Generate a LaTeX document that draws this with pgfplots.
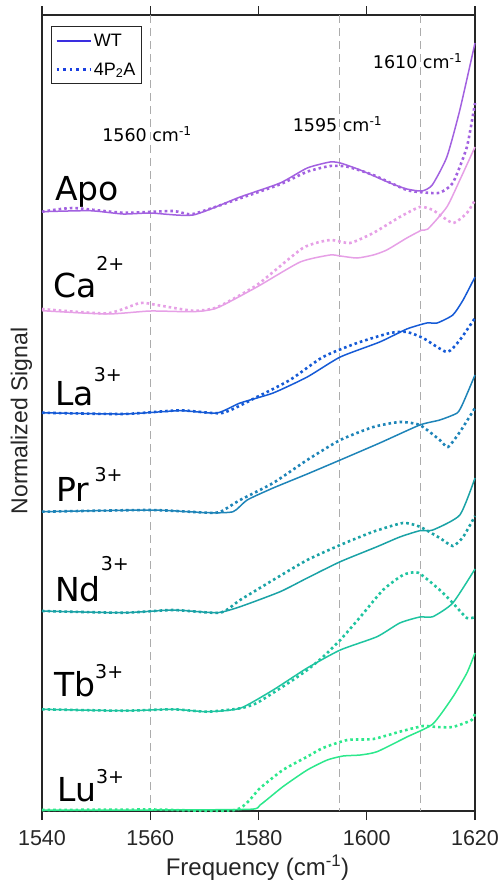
\documentclass[border=0pt]{standalone}
\usepackage{pgfplots}
\pgfplotsset{compat=1.18}
\usepackage{fontspec}
\setmainfont{Liberation Sans}
\newfontfamily\dv{DejaVu Sans}
\definecolor{cApo}{HTML}{A261E0}
\definecolor{cCa}{HTML}{E6A0E6}
\definecolor{cLa}{HTML}{155AD6}
\definecolor{cPr}{HTML}{1E84B8}
\definecolor{cNd}{HTML}{1AA2A6}
\definecolor{cTb}{HTML}{1EC4A0}
\definecolor{cLu}{HTML}{2CE88C}
\definecolor{cLegW}{HTML}{3A2EE0}
\definecolor{cLegD}{HTML}{1A40E0}
\definecolor{axc}{HTML}{262626}
\begin{document}
\begin{tikzpicture}
\useasboundingbox (0,0) rectangle (501pt,881pt);
\begin{axis}[
  at={(42pt,70pt)}, anchor=south west,
  width=433pt, height=796pt, scale only axis,
  xmin=1540, xmax=1620, ymin=15, ymax=811, y dir=reverse,
  clip=false,
  axis line style={draw=axc, line width=1.3pt},
  ytick=\empty,
  xtick={1540,1560,1580,1600,1620},
  xticklabels={1540,1560,1580,1600,1620},
  xtick pos=both, tick align=outside,
  major tick length=9pt,
  xtick style={color=axc, line width=1.4pt},
  xticklabel style={font=\fontsize{21.5}{21.5}\selectfont, text=axc, yshift=-7pt},
  xlabel={Frequency (cm\textsuperscript{-1})},
  xlabel style={font=\fontsize{24}{24}\selectfont, text=axc, at={(axis description cs:0.4977,-0.0708)}, anchor=center},
  ylabel={Normalized Signal},
  ylabel style={font=\fontsize{23}{23}\selectfont, text=axc, at={(axis description cs:-0.0473,0.490)}, anchor=center},
  legend style={at={(axis description cs:0.020,0.986)}, anchor=north west, draw=axc, line width=1.3pt,
    font=\fontsize{18}{18}\selectfont, inner xsep=4pt, inner ysep=5pt, row sep=11pt, fill=white},
  legend cell align=left,
  legend image code/.code={\draw[#1] (0pt,0pt) -- (34pt,0pt);},
]
\addlegendimage{color=cLegW, solid, line width=1.9pt}
\addlegendentry{WT}
\addlegendimage{color=cLegD, line width=2.6pt, dash pattern=on 2.6pt off 4pt}
\addlegendentry{4P\textsubscript{2}A}
% reference lines
\pgfplotsset{refl/.style={forget plot, draw=gray!65, line width=1.1pt, dash pattern=on 8pt off 5pt}}
\addplot[refl] coordinates {(1560,15) (1560,811)};
\addplot[refl] coordinates {(1595,15) (1595,811)};
\addplot[refl] coordinates {(1610,15) (1610,811)};
\pgfplotsset{wt/.style={forget plot, line width=1.5pt, smooth, tension=0.35}, mut/.style={forget plot, line width=2.6pt, dash pattern=on 2.6pt off 3pt, smooth, tension=0.35}}
% Apo
\addplot[wt, cApo] coordinates {(1540,211.7)(1548.9,210.7)(1555,214)(1560,213)(1567.9,215)(1576.6,197)(1584,183)(1589,168)(1593.2,162)(1595.1,163)(1598.8,170)(1604.3,183)(1607.4,189)(1610.2,191)(1612.1,185)(1614.8,157)(1617.2,110)(1620,43)};
\addplot[mut, cApo] coordinates {(1540,211.7)(1545.7,208)(1555,212.7)(1564.2,211)(1567.9,214)(1576.6,198.3)(1584,184.3)(1589,171.7)(1593.2,166)(1596.4,166.7)(1601.2,175)(1607.4,190)(1611.1,192.7)(1613.5,192.7)(1615.9,183)(1618.5,147)(1620,103)};
% Ca
\addplot[wt, cCa] coordinates {(1540,310.7)(1552,314)(1560,311)(1567.9,311.7)(1572.3,308)(1579.7,287)(1587.7,262)(1593.2,255)(1595.1,256)(1598.2,258)(1601.2,255)(1603.7,250)(1607.4,238)(1610.2,230)(1611.3,229)(1614.8,207)(1617.2,180)(1620,147)};
\addplot[mut, cCa] coordinates {(1540,309)(1552,313.3)(1558.1,303)(1561.2,305)(1567.9,310.7)(1572.3,307.3)(1579.7,285)(1588.2,248)(1593.2,240)(1596.9,243)(1601.2,233)(1606.1,217)(1609.8,207)(1612.2,210)(1615.9,223)(1618.5,213)(1620,200)};
% La
\addplot[wt, cLa] coordinates {(1540,412.7)(1555,414)(1565.5,410.7)(1572.3,413)(1576.6,403)(1582.7,393)(1589,377)(1595.1,357)(1602.4,342)(1607.4,329)(1611.1,323)(1613,323)(1615.9,315)(1617.8,300)(1620,277)};
\addplot[mut, cLa] coordinates {(1540,412.7)(1555,414)(1565.5,410.3)(1573.3,413)(1579.7,397)(1585.8,380)(1591.9,357)(1598.2,343)(1604.3,333)(1607.4,332)(1610.4,338)(1614.8,352)(1617.2,340)(1620,318)};
% Pr
\addplot[wt, cPr] coordinates {(1540,511.7)(1560,510)(1570.5,512.7)(1575.3,511.7)(1577.9,500)(1582.7,488)(1589,474)(1595.1,460)(1602.4,443)(1609.8,425)(1613.5,420)(1616.7,413)(1617.8,403)(1620,375)};
\addplot[mut, cPr] coordinates {(1540,511.7)(1560,510)(1570.5,512.7)(1572.9,512)(1576.6,500)(1582.7,483)(1589,460)(1595.1,440)(1601.2,427)(1606.1,422)(1609.8,425)(1613.5,440)(1615,447)(1617.2,432)(1620,408)};
% Nd
\addplot[wt, cNd] coordinates {(1540,611)(1555,612.7)(1564.2,610)(1572.3,612.7)(1576.6,606.7)(1584,591.7)(1589,578)(1595.1,561.7)(1601.9,546.7)(1606.1,537)(1609.8,530.7)(1612.2,530)(1617.2,515)(1620,478)};
\addplot[mut, cNd] coordinates {(1540,611)(1555,612.7)(1564.2,610)(1572.9,612.7)(1576.6,600)(1582.7,580)(1589,560)(1595.1,545)(1601.2,531.7)(1606.7,523)(1609.8,526.7)(1613.5,538)(1615.9,546)(1617.8,537)(1620,516)};
% Tb
\addplot[wt, cTb] coordinates {(1540,709.3)(1555,710.7)(1564.2,709.3)(1570.5,711.7)(1576.6,708.3)(1582.7,690)(1589,668)(1595.1,650)(1601.9,636.7)(1606.1,623)(1609.8,617)(1612.2,616.7)(1615.9,603)(1620,569)};
\addplot[mut, cTb] coordinates {(1540,709.3)(1555,710.7)(1564.2,709.3)(1570.5,711.7)(1576.6,708.3)(1579.7,703)(1585.8,682)(1589,670)(1591.9,657)(1595.1,640)(1598.8,617)(1603,590)(1606.7,575)(1609.5,572.7)(1613.5,590)(1615.9,603)(1618.5,618)(1620,617)};
% Lu
\addplot[wt, cLu] coordinates {(1540,810)(1560,810)(1578.4,809.3)(1580.3,805)(1584.5,786.7)(1589,770)(1592.7,760)(1595.6,756)(1598.8,755)(1601.9,751.7)(1607.4,737)(1612.2,724)(1615.9,697)(1618.5,673)(1620,653)};
\addplot[mut, cLu] coordinates {(1540,810)(1560,809.5)(1575.7,810)(1580.3,788)(1584.5,770)(1589,756.7)(1591.9,748)(1596.4,740)(1601.2,739)(1606.1,731.7)(1610.4,726)(1613,727)(1615.9,727)(1619.4,720)(1620,713)};
% annotations
\node[font=\dv\fontsize{17.5}{17.5}\selectfont, anchor=base] at (axis cs:1559.4,141.7) {1560 cm\textsuperscript{-1}};
\node[font=\dv\fontsize{17.5}{17.5}\selectfont, anchor=base] at (axis cs:1594.6,131.7) {1595 cm\textsuperscript{-1}};
\node[font=\dv\fontsize{17.5}{17.5}\selectfont, anchor=base] at (axis cs:1609.4,68.3) {1610 cm\textsuperscript{-1}};
% series labels
\node[font=\dv\fontsize{33}{33}\selectfont, anchor=base west, inner sep=0pt] at (axis cs:1542.4,200) {Apo};
\node[font=\dv\fontsize{33}{33}\selectfont, anchor=base west, inner sep=0pt] at (axis cs:1542.0,297.3) {Ca\raisebox{26.6pt}{\fontsize{19}{19}\selectfont 2+}};
\node[font=\dv\fontsize{33}{33}\selectfont, anchor=base west, inner sep=0pt] at (axis cs:1542.4,405) {La\raisebox{23.3pt}{\fontsize{19}{19}\selectfont 3+}};
\node[font=\dv\fontsize{33}{33}\selectfont, anchor=base west, inner sep=0pt] at (axis cs:1542.6,501.7) {Pr\,\raisebox{20pt}{\fontsize{19}{19}\selectfont 3+}};
\node[font=\dv\fontsize{33}{33}\selectfont, anchor=base west, inner sep=0pt] at (axis cs:1542.4,601.7) {Nd\raisebox{31.7pt}{\fontsize{19}{19}\selectfont 3+}};
\node[font=\dv\fontsize{33}{33}\selectfont, anchor=base west, inner sep=0pt] at (axis cs:1542.2,696) {Tb\raisebox{17.7pt}{\fontsize{19}{19}\selectfont 3+}};
\node[font=\dv\fontsize{33}{33}\selectfont, anchor=base west, inner sep=0pt] at (axis cs:1542.8,801.7) {Lu\raisebox{18.3pt}{\fontsize{19}{19}\selectfont 3+}};
\end{axis}
\end{tikzpicture}
\end{document}
